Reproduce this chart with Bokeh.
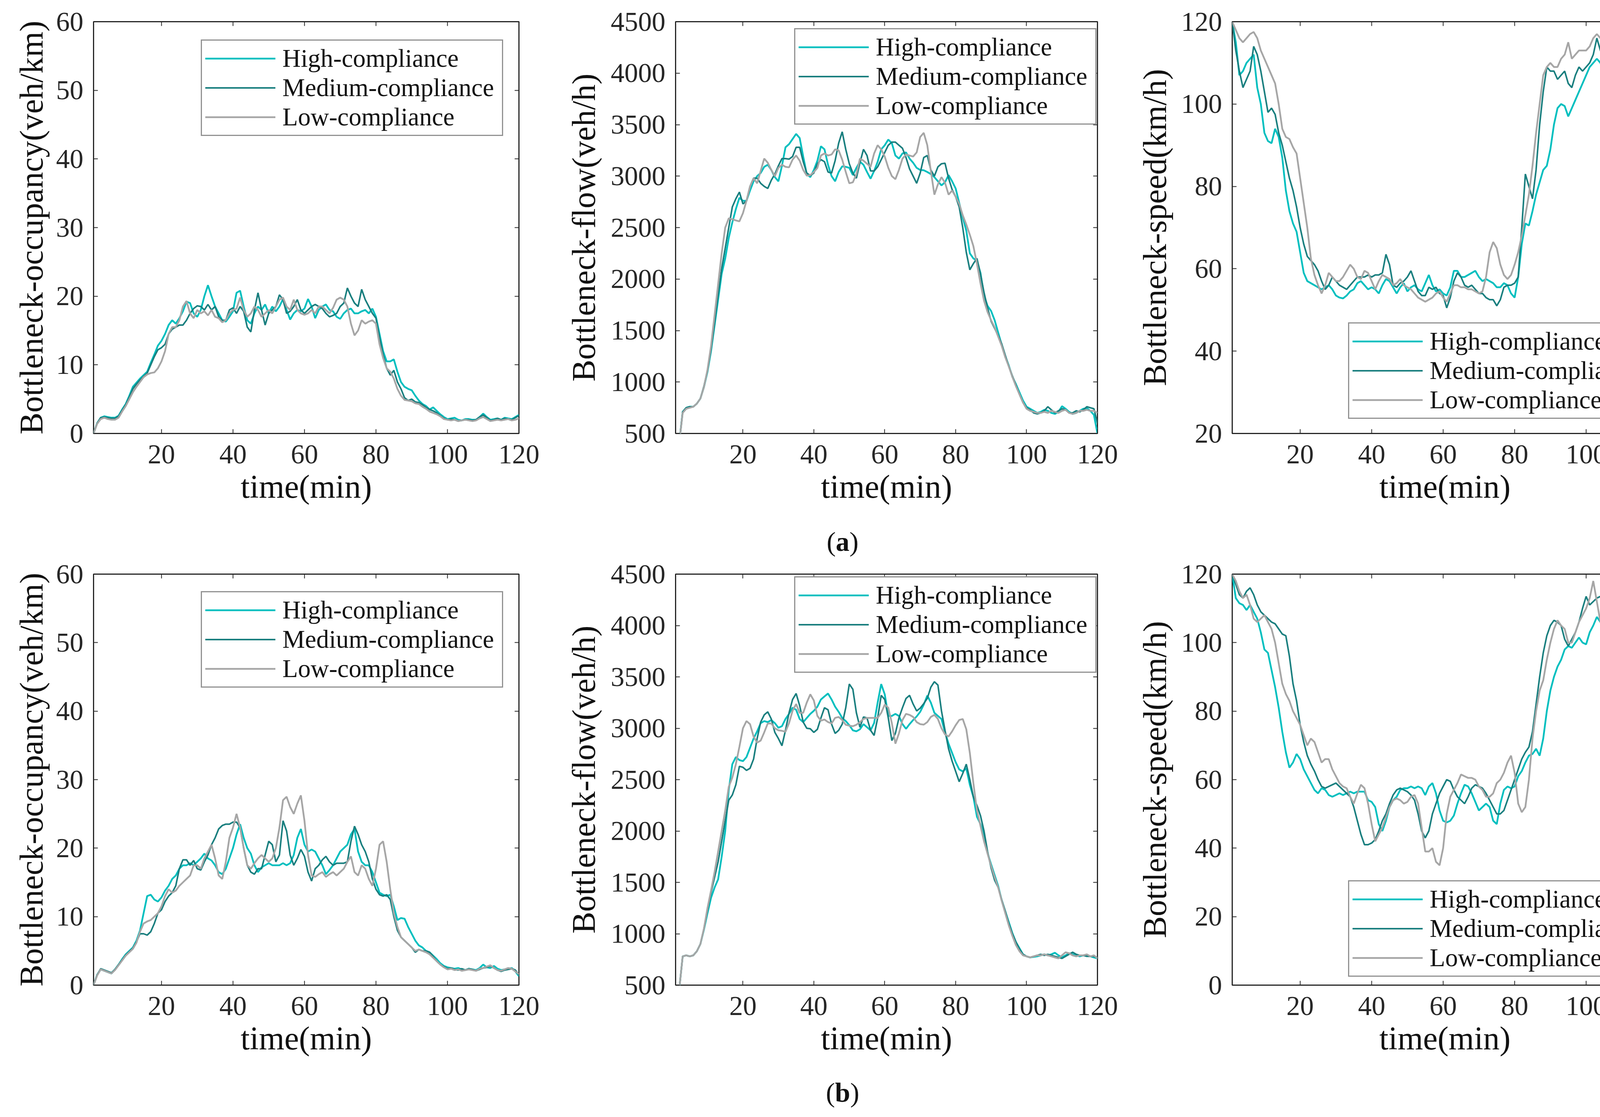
from bokeh.plotting import figure
from bokeh.models import Range1d, FixedTicker, LinearAxis, Legend, LegendItem, Div
from bokeh.layouts import column, row
from bokeh.embed import file_html
from bokeh.resources import INLINE

# ---------------- data ----------------
t = list(range(1, 121))
series_labels = ["High-compliance", "Medium-compliance", "Low-compliance"]
x_ticks = [20, 40, 60, 80, 100, 120]
occ_ticks = [0, 10, 20, 30, 40, 50, 60]
flow_ticks = [500, 1000, 1500, 2000, 2500, 3000, 3500, 4000, 4500]
speed_ticks_a = [20, 40, 60, 80, 100, 120]
speed_ticks_b = [0, 20, 40, 60, 80, 100, 120]

occ_a_high = [0,1.5,2.3,2.5,2.4,2.3,2.3,2.6,3.5,4.3, 5.5,6.8,7.4,8.0,8.5,9.0,10.3,11.5,12.8,13.5,
              14.5,15.8,16.5,16.0,16.8,17.8,19.2,19.0,17.5,17.0, 18.0,20.0,21.6,20.0,18.5,17.5,16.5,16.3,17.0,17.8,
              20.5,20.8,18.5,16.5,16.0,17.5,18.5,18.0,18.8,17.5, 18.5,17.8,18.5,19.6,18.0,16.6,17.5,18.0,17.8,18.2,
              19.6,18.5,16.8,18.0,18.5,18.8,18.0,17.8,17.0,16.7, 17.5,18.0,18.2,17.5,17.5,17.8,18.0,17.5,18.2,17.0,
              14.5,12.0,10.5,10.5,10.8,9.0,7.5,6.8,6.5,6.3, 5.5,4.8,4.3,4.0,3.5,3.8,3.3,2.8,2.4,2.1,
              2.2,2.3,2.0,1.9,2.1,2.1,2.0,2.0,2.4,2.9, 2.4,2.0,2.1,2.2,2.0,2.3,2.2,2.1,2.4,2.7]
occ_a_med = [0,1.5,2.3,2.4,2.3,2.2,2.2,2.5,3.4,4.2, 5.3,6.5,7.2,7.8,8.3,8.8,10.0,11.2,12.2,12.5,
             13.0,14.5,15.2,15.5,15.8,15.8,16.5,17.5,18.2,18.6, 18.5,18.0,18.8,18.0,18.5,17.0,16.5,16.5,18.0,18.3,
             17.5,18.5,17.8,15.5,14.8,18.0,20.5,18.0,15.8,17.5, 18.0,18.5,20.2,19.5,17.5,17.8,18.5,19.5,18.0,17.5,
             18.0,18.5,18.8,18.5,18.2,17.5,17.0,17.2,17.5,18.5, 19.0,21.2,20.0,19.0,18.5,21.0,19.5,18.5,17.5,16.8,
             14.0,11.5,9.5,8.5,9.2,7.5,6.5,5.2,4.8,5.0, 4.6,4.5,4.2,3.8,3.5,3.3,3.0,2.6,2.2,2.0,
             2.1,2.0,1.8,1.9,2.0,2.0,1.9,2.0,2.4,2.7, 2.3,1.9,2.0,2.2,2.0,2.2,2.1,2.0,2.3,2.6]
occ_a_low = [0,1.4,2.1,2.3,2.1,2.0,2.0,2.3,3.2,4.0, 5.0,6.0,6.8,7.5,8.2,8.6,8.8,8.9,9.5,10.5,
             12.0,14.5,15.5,15.5,16.5,18.5,19.3,17.5,16.8,18.0, 17.5,17.8,17.2,18.0,17.0,16.8,16.2,16.5,17.5,18.0,
             18.2,19.8,18.0,17.0,17.5,18.5,18.0,17.0,17.5,18.0, 17.5,18.5,19.5,19.8,18.5,18.0,19.5,18.0,17.5,17.3,
             17.5,18.0,17.5,18.5,18.5,18.0,17.5,18.3,19.5,19.8, 19.5,18.5,16.0,14.3,15.0,16.5,16.0,16.3,16.5,16.0,
             13.0,11.0,9.5,9.0,8.0,6.5,5.5,4.9,4.8,4.7, 4.4,4.3,3.9,3.6,3.2,3.0,2.8,2.5,2.1,2.0,
             1.9,2.0,1.8,1.9,2.0,1.9,1.8,1.9,2.2,2.4, 2.1,1.8,1.9,2.0,1.9,2.0,2.1,1.9,2.0,2.2]

flow_a_high = [0,400,710,750,760,760,790,840,950,1100, 1300,1550,1800,2050,2200,2400,2550,2680,2790,2760,
               2760,2860,2950,3000,3030,3090,3110,3060,2990,2950, 3100,3280,3310,3360,3410,3370,3190,3020,2990,3060,
               3150,3290,3260,3110,3000,2950,3040,3095,3090,3080, 3010,3080,3140,3110,3040,2975,3050,3140,3260,3300,
               3355,3320,3200,3170,3220,3230,3170,3130,3080,3060, 3057,3040,3020,2990,2950,2910,2940,3010,2950,2880,
               2740,2600,2470,2250,2200,2180,2060,1840,1740,1690, 1600,1480,1360,1250,1160,1050,980,900,820,760,
               740,720,700,710,730,720,700,690,710,765, 740,710,690,700,720,740,745,720,680,500]
flow_a_med = [0,400,710,750,760,760,790,840,960,1110, 1320,1580,1850,2100,2300,2500,2700,2780,2845,2730,
              2760,2900,2980,2980,2930,2900,2880,2960,3020,3100, 3170,3170,3165,3190,3280,3280,3140,3030,3005,3030,
              3120,3160,3140,3040,3030,3150,3320,3430,3260,3120, 3030,2980,3130,3260,3200,3050,3050,3090,3160,3230,
              3300,3330,3330,3300,3270,3180,3070,3000,2930,3030, 3180,3200,3060,3000,3090,3120,3125,2980,2870,2800,
              2700,2500,2260,2090,2150,2200,2050,1870,1720,1590, 1520,1450,1370,1260,1150,1060,970,880,800,750,
              730,700,690,700,720,760,730,700,720,740, 730,700,700,720,710,730,760,750,740,600]
flow_a_low = [0,400,700,740,750,760,790,840,950,1120, 1350,1650,1950,2250,2500,2590,2580,2570,2560,2640,
              2760,2900,2980,2930,3050,3170,3130,3060,3000,3080, 3110,3090,3085,3160,3200,3150,3060,3005,3010,3040,
              3080,3200,3220,3200,3210,3260,3250,3160,3040,2930, 2940,3020,3170,3150,3120,3090,3220,3300,3260,3190,
              3080,3000,2970,3060,3170,3210,3200,3190,3230,3380, 3420,3300,3050,2820,2920,2990,2935,2820,2860,2800,
              2730,2620,2530,2430,2320,2150,1960,1790,1680,1600, 1530,1440,1350,1240,1150,1050,960,880,800,740,
              720,710,700,700,710,700,720,710,700,720, 730,700,690,700,720,720,730,720,720,700]

speed_a_high = [120,115,107,108,110,111,112,104,100,93, 91,90.5,94,92,87,79,74,71,69,64,
                59,57,56.5,56,55.5,55,55.5,56,55,53.5, 53,52.8,53.5,54.5,55,56.5,57,56,55,55.5,
                55,54,56,57.5,57,55.5,54,55.5,56.5,54.5, 55.5,56,55,54.5,56.5,58.5,56,54.5,55,54,
                53.5,55.5,59.5,59.5,58,58,58.5,59,59.5,58, 57,57.5,57,56.5,55.5,55.5,56.5,56,54,53,
                58,66,71,70.5,74,78,81,84,85,89, 95,99,100,99.5,97,99,101,103,105,107,
                109,110,111,110,107,108.5,107,108,106,105.5, 109,112,108.5,107,109,111,107,108,105,100]
speed_a_med = [120,113,108,104,106,108,114,112,108,103, 98,99,97.5,93,90,86,82,79,75,70,
               66,63,62,61,59.5,57,55,56,58,57, 56,55.5,55,56,57,58,58,58,58.5,58,
               58.5,58.5,59,63.5,61,56,55.5,56.5,57,58, 59.5,57,54.5,53.5,53.5,55.5,55,55.5,54,53.5,
               50.5,53,57,59,58,56,55.5,56,55,54, 54,53,52.5,52.5,51,52.5,55.5,56,56,56.5,
               58,70,83,80,77,84,95,103,109,108, 108,106,107,108,105,104,107,109,108,109,
               110,112,116,113,111,112,110,112,109,107, 110,115,112,110,112,111,115,114,113,114]
speed_a_low = [120,118,116,115,116,117,117.5,116,113,111, 109,107,105,100,94,92,91.5,89.5,88,82,
               76,70,62.5,58.5,56,54,56,59,58,57, 57,58,59.5,61,60,58,57.5,59.5,59,57,
               55,57,58.5,58,57.5,56,56.5,57.5,56,55.5, 55,54,53,52.5,52,52.5,53,54,54.5,53,
               52,54,56,56,55.5,55.5,55,55,54.5,54, 54.5,58,64,66.5,65,61,58.5,57.5,58.5,61,
               64,68,73,78,85,93,100,107,109,110, 109,109,111,112,115,111,112,113,113,113,
               114,116,117,116,114,112,111,110,108,105, 109,113,117,116,115,114,116,118,118.5,119]

occ_b_high = [0,1.5,2.3,2.1,1.9,1.7,2.3,3.0,3.8,4.5, 5.0,5.5,6.5,8.0,10.5,13.0,13.2,12.5,12.2,12.8,
              13.8,14.5,15.5,16.0,17.0,17.5,17.5,17.8,17.5,18.0, 18.5,19.2,18.5,18.2,17.5,16.5,16.2,17.0,18.5,20.0,
              22.0,23.5,21.5,20.0,19.2,17.5,16.5,17.2,17.5,17.8, 17.5,17.5,17.5,17.8,17.5,17.8,19.0,21.5,22.8,20.5,
              19.5,19.8,19.5,18.5,17.5,16.2,16.8,17.5,18.5,19.5, 20.0,20.5,22.0,22.8,19.5,18.0,17.5,17.5,16.5,15.0,
              13.5,13.2,13.0,13.2,11.5,9.5,9.8,9.7,8.5,7.5, 6.5,5.8,5.5,5.0,4.8,4.3,3.8,3.2,2.8,2.6,
              2.5,2.4,2.5,2.3,2.2,2.4,2.3,2.2,2.5,3.0, 2.6,2.5,2.8,2.4,2.2,2.3,2.4,2.5,2.0,1.3]
occ_b_med = [0,1.5,2.4,2.2,2.0,1.8,2.3,3.0,3.7,4.4, 4.9,5.4,6.3,7.5,7.5,7.3,7.8,9.0,10.5,11.0,
             12.2,13.0,13.5,14.5,17.0,18.3,18.3,17.5,18.2,17.0, 16.8,18.0,19.0,20.5,21.5,22.8,23.3,23.5,23.5,23.8,
             23.8,23.0,20.0,17.5,16.5,16.2,17.0,17.0,19.0,21.0, 20.5,18.0,19.0,24.0,22.5,19.0,17.5,18.5,19.8,18.8,
             16.5,15.2,17.0,17.5,18.3,18.8,18.0,17.5,17.8,17.8, 17.8,18.0,21.0,23.2,22.0,20.5,19.5,18.0,15.5,14.0,
             13.2,13.0,13.2,12.5,10.0,8.0,7.0,6.5,6.0,5.5, 4.8,5.2,5.0,5.0,4.8,4.2,3.5,3.0,2.7,2.4,
             2.5,2.3,2.2,2.4,2.2,2.4,2.3,2.1,2.3,2.5, 2.6,2.8,2.5,2.2,2.0,2.2,2.3,2.4,2.2,1.5]
occ_b_low = [0,1.4,2.3,2.1,1.9,1.7,2.2,2.9,3.6,4.3, 4.8,5.3,6.2,7.8,9.0,9.3,9.5,10.0,10.5,11.5,
             13.0,14.0,13.5,13.8,14.5,15.0,15.5,16.0,17.5,17.5, 17.0,18.5,19.5,20.5,18.5,16.0,15.5,18.0,21.5,23.0,
             25.0,23.0,20.0,17.5,17.0,17.8,18.5,19.0,18.5,18.0, 18.5,20.0,23.0,27.0,27.5,26.0,25.0,26.5,27.7,24.0,
             19.0,16.0,15.8,16.2,16.5,15.8,16.2,16.5,16.0,16.5, 17.0,18.0,18.8,16.5,16.0,17.5,17.0,15.5,14.5,17.0,
             20.5,21.0,18.0,14.0,10.5,8.5,7.0,6.5,6.0,5.5, 5.0,5.2,5.0,4.8,4.5,4.0,3.5,3.0,2.6,2.3,
             2.4,2.2,2.3,2.1,2.2,2.3,2.2,2.1,2.4,2.5, 2.7,2.9,2.5,2.2,2.1,2.3,2.5,2.4,2.0,1.6]

flow_b_high = [0,450,780,790,780,790,830,900,1040,1200, 1350,1450,1530,1750,2000,2400,2650,2720,2690,2680,
               2720,2810,2900,2970,3050,3070,3060,3080,3050,3005, 3020,3090,3140,3200,3180,3090,3060,3100,3140,3170,
               3210,3280,3310,3338,3280,3210,3160,3100,3070,3030, 2980,2970,2990,3040,3010,2980,3050,3250,3430,3330,
               3120,3120,3140,3120,3040,2995,3040,3080,3115,3160, 3230,3318,3250,3150,3120,3090,2960,2850,2760,2670,
               2600,2580,2610,2450,2330,2140,2066,1960,1784,1677, 1571,1465,1324,1218,1112,1006,920,860,800,780,
               770,775,780,790,800,790,800,815,790,770, 790,810,800,790,780,790,795,780,770,760]
flow_b_med = [0,450,780,790,780,790,830,900,1050,1230, 1400,1550,1700,1900,2100,2300,2350,2450,2630,2620,
              2590,2610,2700,2900,3060,3130,3160,3090,2960,2900, 2830,2980,3150,3280,3338,3220,3060,3000,2995,2960,
              2990,3100,3200,3180,3040,2950,2980,3040,3200,3430, 3380,3150,3010,3110,3100,2980,2930,3100,3320,3280,
              3100,2880,2950,3100,3200,3290,3320,3236,3169,3196, 3240,3291,3400,3453,3420,3169,2980,2800,2680,2580,
              2480,2560,2650,2500,2330,2250,2150,2000,1800,1640, 1520,1450,1330,1220,1100,1000,920,850,800,780,
              770,780,790,800,790,800,790,780,770,760, 780,800,820,800,790,790,780,780,780,770]
flow_b_low = [0,450,780,790,780,790,830,900,1050,1250, 1420,1600,1800,2000,2200,2430,2520,2650,2820,3000,
              3070,3040,2920,2860,2880,2960,3047,3047,3000,2980, 2975,2966,3050,3170,3236,3150,3150,3250,3330,3270,
              3120,3074,3085,3060,3047,3101,3110,3080,3034,3025, 3020,3034,3060,3090,3101,3101,3101,3101,3150,3230,
              3200,3050,2850,2950,3080,3140,3130,3110,3060,3040, 3035,3060,3110,3130,3090,3000,2940,2920,2970,3030,
              3080,3090,2990,2760,2466,2200,2050,1900,1780,1660, 1550,1450,1320,1200,1080,980,890,830,790,780,
              770,780,790,790,800,790,780,770,760,790, 820,810,790,780,790,790,800,780,790,760]

speed_b_high = [120,113,111.5,111,109.5,111,109,107,103,98, 97,92,87,81,74,68,63.5,65,67.5,66,
                63,61,59,57,56,57.5,57,55.5,55,55.5, 56,55.5,56,56.5,56,56.5,56.5,56.5,54,53.5,
                52,47,45,48,52,54,55,57,57.5,57.5, 58,57.5,58,57.5,55.5,58,59,56,51,48,
                47.5,48,49.5,53,56,58.5,58,56,53.5,51, 52,53,52,48,47,53,57,58,57.5,58,
                61,62.5,65,67,67.5,69,67,72,80,86, 90,93,95,98,99,98.5,100,101.5,100,99.5,
                103,105,107.5,106,109.5,105,108,106,104,102, 107,109,111,113.5,112,113,111,110,109,112.5]
speed_b_med = [120,117,114,113,115,116,114,111,109,108, 107,106,105.5,104,102.5,102,96,88,83,76,
               71,67,64.5,62.5,60,58,57.5,58,58.5,59, 58,57,56,55,52,48,44,41,41,41.5,
               42.5,45,48,50,53,55.5,57,57.5,57,56.5, 55.5,54,50,45,43,45,50,53,56,58,
               60,59.5,57,55,54,53,55,57.5,58.5,58, 57.5,56,54,52,50,50,51,54,57,60,
               63,66,68,69.5,74,82,90,97,102,105, 106.5,106,105,101,99,101,103,106,110,113.5,
               111,112,113,113.5,112,110,113,113.5,111,108, 106,108,110,113,115,115.5,114,113,114,115]
speed_b_low = [120,118,115,113,114,111,107,106,107,108, 106,104,100,94,88,85,83,80,78,76,
               73,70,72,71,68,65,66,66,63,61, 59,58,57.5,55,53,56,58.5,57.5,53,47,
               42,44,46,49,52,54,54.5,54,53,53.5, 55,55.5,53,46,39,39,40,36,35,40,
               50,55,57,59,61.5,61,60.5,60.5,60,58, 57,55,55,56,59,60,62,65,67,62,
               53,50.5,52,60,72,80,86,89,95,100, 104,106.5,105,104,100,100,103,106,108,110,
               113,118,112,106,103,108,112,110,112,113, 110,107,111,116.5,117,114,115,114,118,116]

# ---------------- style ----------------
S = 1.0              # global size factor
FONT = "Liberation Serif"
TXT = "#262626"
COLORS = ["#00BFBF", "#1A7F7F", "#A6A6A6"]
LW = [4.5, 4.0, 4.5]


def px(v):
    return int(round(v * S))


def fs(v):
    return "%.1fpx" % (v * S)


def style_ticks(ax):
    ax.axis_line_color = None
    ax.major_tick_in = px(11)
    ax.major_tick_out = 0
    ax.major_tick_line_color = TXT
    ax.major_tick_line_width = 2
    ax.minor_tick_line_color = None


def panel(ylab, yr, ytk, data, ml, fw, mr, mt, fh, mb, leg_xy, ylab_standoff):
    ml, fw, mr, mt, fh, mb = px(ml), px(fw), px(mr), px(mt), px(fh), px(mb)
    p = figure(width=ml + fw + mr, height=mt + fh + mb,
               x_range=Range1d(1, 120), y_range=Range1d(*yr),
               output_backend="svg", toolbar_location=None,
               min_border_left=ml, min_border_right=mr,
               min_border_top=mt, min_border_bottom=mb,
               x_axis_label="time(min)", y_axis_label=ylab)
    p.background_fill_color = "white"
    p.border_fill_color = "white"
    p.xgrid.visible = False
    p.ygrid.visible = False
    p.outline_line_color = TXT
    p.outline_line_width = 3
    p.outline_line_alpha = 1

    for ax, tk in ((p.xaxis[0], x_ticks), (p.yaxis[0], ytk)):
        ax.ticker = FixedTicker(ticks=tk)
        style_ticks(ax)
        ax.major_label_text_font = FONT
        ax.major_label_text_font_size = fs(70)
        ax.major_label_text_color = TXT
        ax.axis_label_text_font = FONT
        ax.axis_label_text_font_size = fs(84)
        ax.axis_label_text_font_style = "normal"
        ax.axis_label_text_color = "#111111"
    p.xaxis[0].major_label_standoff = px(30)
    p.xaxis[0].axis_label_standoff = px(10)
    p.yaxis[0].major_label_standoff = px(26)
    p.yaxis[0].axis_label_standoff = px(ylab_standoff)

    # inward ticks on the top and right edges (MATLAB box style), no labels
    for loc, tk in (("right", ytk), ("above", x_ticks)):
        ax = LinearAxis(ticker=FixedTicker(ticks=tk))
        style_ticks(ax)
        ax.major_label_text_font_size = "1px"
        ax.major_label_text_color = None
        ax.major_label_standoff = 0
        p.add_layout(ax, loc)

    rs = []
    for ys, c, w in zip(data, COLORS, LW):
        rs.append(p.line(t, ys, line_color=c, line_width=w))

    legend = Legend(items=[LegendItem(label=lab, renderers=[r]) for lab, r in zip(series_labels, rs)],
                    location=(px(leg_xy[0]), px(leg_xy[1])))
    legend.label_text_font = FONT
    legend.label_text_font_size = fs(65)
    legend.label_text_color = "#111111"
    legend.glyph_width = px(180)
    legend.glyph_height = px(75)
    legend.label_height = px(75)
    legend.label_width = px(554)
    legend.label_standoff = px(18)
    legend.padding = px(8)
    legend.spacing = 0
    legend.margin = 0
    legend.border_line_color = TXT
    legend.border_line_width = 3
    legend.background_fill_color = "white"
    legend.background_fill_alpha = 1
    p.add_layout(legend)
    return p


# row (a)
p1 = panel("Bottleneck-occupancy(veh/km)", (0, 60), occ_ticks, [occ_a_high, occ_a_med, occ_a_low],
           239, 1089, 84, 55, 1054, 223, (275, 761), 14)
p2 = panel("Bottleneck-flow(veh/h)", (500, 4500), flow_ticks, [flow_a_high, flow_a_med, flow_a_low],
           317, 1080, 73, 55, 1054, 223, (304, 790), 20)
p3 = panel("Bottleneck-speed(km/h)", (20, 120), speed_ticks_a, [speed_a_high, speed_a_med, speed_a_low],
           272, 1089, 61, 55, 1054, 223, (297, 37), 18)
# row (b)
p4 = panel("Bottleneck-occupancy(veh/km)", (0, 60), occ_ticks, [occ_b_high, occ_b_med, occ_b_low],
           239, 1089, 84, 43, 1052, 221, (275, 761), 14)
p5 = panel("Bottleneck-flow(veh/h)", (500, 4500), flow_ticks, [flow_b_high, flow_b_med, flow_b_low],
           317, 1080, 73, 43, 1052, 221, (304, 799), 20)
p6 = panel("Bottleneck-speed(km/h)", (0, 120), speed_ticks_b, [speed_b_high, speed_b_med, speed_b_low],
           272, 1089, 61, 43, 1052, 221, (297, 21), 18)

row_w = p1.width + p2.width + p3.width
cap_style = {"font-family": "'Liberation Serif'", "font-size": fs(70), "text-align": "center",
             "color": "#111111"}
cap_a = Div(text="<div style='text-align:center;width:%dpx;line-height:%dpx'>(<b>a</b>)</div>" % (row_w, px(100)),
            width=row_w, height=px(84), styles=cap_style)
cap_b = Div(text="<div style='text-align:center;width:%dpx;line-height:%dpx'>(<b>b</b>)</div>" % (row_w, px(100)),
            width=row_w, height=px(100), styles=cap_style)

layout = column(row(p1, p2, p3), cap_a, row(p4, p5, p6), cap_b)

open("out.html", "w").write(file_html(layout, INLINE))
